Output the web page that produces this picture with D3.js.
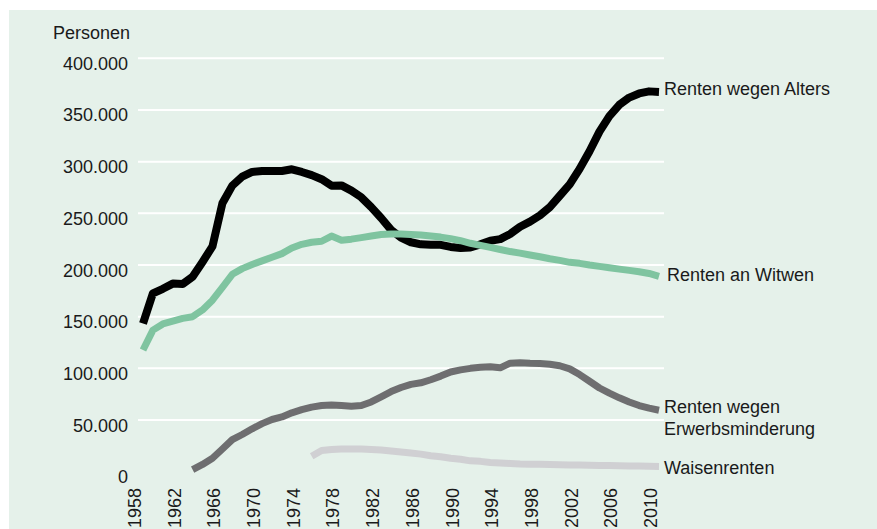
<!DOCTYPE html>
<html>
<head>
<meta charset="utf-8">
<script src="https://cdn.jsdelivr.net/npm/d3@7"></script>
<style>
  body { margin: 0; background: #fff; }
  svg { display: block; font-family: "Liberation Sans", Arial, sans-serif; }
</style>
</head>
<body>
<svg id="chart" width="877" height="529"></svg>
<script>
// years shown on the x axis (every 4th year is labelled)
const years = [1958,1959,1960,1961,1962,1963,1964,1965,1966,1967,1968,1969,1970,1971,1972,1973,1974,1975,1976,1977,
  1978,1979,1980,1981,1982,1983,1984,1985,1986,1987,1988,1989,1990,1991,1992,1993,1994,1995,1996,1997,
  1998,1999,2000,2001,2002,2003,2004,2005,2006,2007,2008,2009,2010];
const tickYears = [1958,1962,1966,1970,1974,1978,1982,1986,1990,1994,1998,2002,2006,2010];
const yTicks = [0,50000,100000,150000,200000,250000,300000,350000,400000];

// Renten wegen Alters (1958-2010)
const alters = [143500,172600,177000,182000,181600,188700,203000,218000,259700,276800,
  285500,290000,291000,291000,291000,292600,290000,287000,283000,276800,
  277000,272000,265500,256000,245500,234000,226500,222000,220000,219500,
  219500,217500,216500,217000,220000,223500,225000,230000,237000,242000,
  248000,256000,267000,278000,293000,310000,329000,344000,355000,362000,
  366000,368000,367500];

// Renten an Witwen (1958-2010)
const witwen = [117700,137000,143000,145800,148400,150000,156500,166000,178400,191000,
  196500,200500,204000,207500,211000,216500,220000,222000,223000,228000,
  224000,225000,226500,228000,229500,230000,230000,229500,229000,228000,
  227000,225500,223500,221000,219000,217000,215000,213000,211500,209700,
  208000,206000,204500,202600,201600,200000,198700,197400,196000,194800,
  193500,191800,189000];

// Renten wegen Erwerbsminderung (ab 1963)
const erwerb = [null,null,null,null,null,2000,7000,13000,22000,31000,
  36000,41500,46500,50500,53000,57000,60000,62500,64000,64500,
  64000,63300,64000,67500,72500,77500,81500,84500,86000,89000,
  92500,96500,98500,100000,101000,101500,100500,105000,105500,105000,
  104800,104000,102500,99500,94000,87500,81000,76000,71500,67500,
  64000,61500,59500];

// Waisenrenten (ab 1975)
const waisen = [null,null,null,null,null,null,null,null,null,null,
  null,null,null,null,null,null,null,15000,20500,21500,
  22000,22000,22000,21500,21000,20000,19000,18000,17000,15500,
  14500,13000,12000,10500,10000,9000,8500,8000,7500,7300,
  7200,7000,6800,6600,6500,6300,6100,6000,5800,5600,
  5400,5200,5000];

const seriesNames = ["Renten wegen Alters", "Renten an Witwen", "Renten wegen Erwerbsminderung", "Waisenrenten"];
const seriesValues = [alters, witwen, erwerb, waisen];
const seriesColors = ["#000000", "#7fc4a0", "#6e6e70", "#d0d0d3"];
const seriesWidths = [8, 7, 7, 7];
// label lines and baseline offset (px) from the line end
const labelLines = [["Renten wegen Alters"], ["Renten an Witwen"], ["Renten wegen", "Erwerbsminderung"], ["Waisenrenten"]];
const labelNudge = [3, 4.5, 2.5, 7.5];
const labelDx = [5, 8, 5, 5];

var svg = d3.select("#chart");

svg.append("rect")
  .attr("x", 9)
  .attr("y", 10)
  .attr("width", 868)
  .attr("height", 519)
  .attr("fill", "#e5f1ea");

var x = d3.scaleLinear().domain([1958, 2010]).range([143, 659]);
var y = d3.scaleLinear().domain([0, 400000]).range([471.7, 58.3]);

var fmt = d3.format(",");
const label = (v) => fmt(v).replace(/,/g, ".");

// gridlines
svg.append("g")
  .selectAll("line")
  .data(yTicks.filter((d) => d > 0))
  .enter()
  .append("line")
  .attr("x1", 138)
  .attr("x2", 664)
  .attr("y1", (d) => y(d))
  .attr("y2", (d) => y(d))
  .attr("stroke", "#ffffff")
  .attr("stroke-width", 2);

// y tick labels
svg.append("g")
  .selectAll("text")
  .data(yTicks)
  .enter()
  .append("text")
  .attr("x", 128)
  .attr("y", (d) => y(d) + 11.5)
  .attr("text-anchor", "end")
  .attr("font-size", 18)
  .attr("fill", "#1a1a1a")
  .text(label);

svg.append("text")
  .attr("x", 53)
  .attr("y", 39)
  .attr("font-size", 18)
  .attr("fill", "#1a1a1a")
  .text("Personen");

// x tick labels, rotated
svg.append("g")
  .selectAll("text")
  .data(tickYears)
  .enter()
  .append("text")
  .attr("transform", (d) => "translate(" + (x(d) - 2) + ",488) rotate(-90)")
  .attr("text-anchor", "end")
  .attr("font-size", 18)
  .attr("fill", "#1a1a1a")
  .text((d) => d);

// the lines
var line = d3.line()
  .defined((d) => d[1] != null)
  .x((d) => x(d[0]))
  .y((d) => y(d[1]));

svg.append("g")
  .selectAll("path")
  .data(seriesValues)
  .enter()
  .append("path")
  .attr("d", (vals) => line(years.map((yr, i) => [yr, vals[i]])))
  .attr("fill", "none")
  .attr("stroke", (d, i) => seriesColors[i])
  .attr("stroke-width", (d, i) => seriesWidths[i])
  .attr("stroke-linejoin", "round")
  .attr("stroke-linecap", "butt");

// end labels
var ends = svg.append("g")
  .selectAll("text")
  .data(seriesValues)
  .enter()
  .append("text")
  .attr("x", (d, i) => x(2010) + labelDx[i])
  .attr("y", (d, i) => y(d[d.length - 1]) + labelNudge[i])
  .attr("font-size", 18)
  .attr("fill", "#1a1a1a");

ends.each(function (d, i) {
  var t = d3.select(this);
  labelLines[i].forEach((s, j) => {
    t.append("tspan")
      .attr("x", x(2010) + labelDx[i])
      .attr("dy", j === 0 ? 0 : 22)
      .text(s);
  });
});
</script>
</body>
</html>
